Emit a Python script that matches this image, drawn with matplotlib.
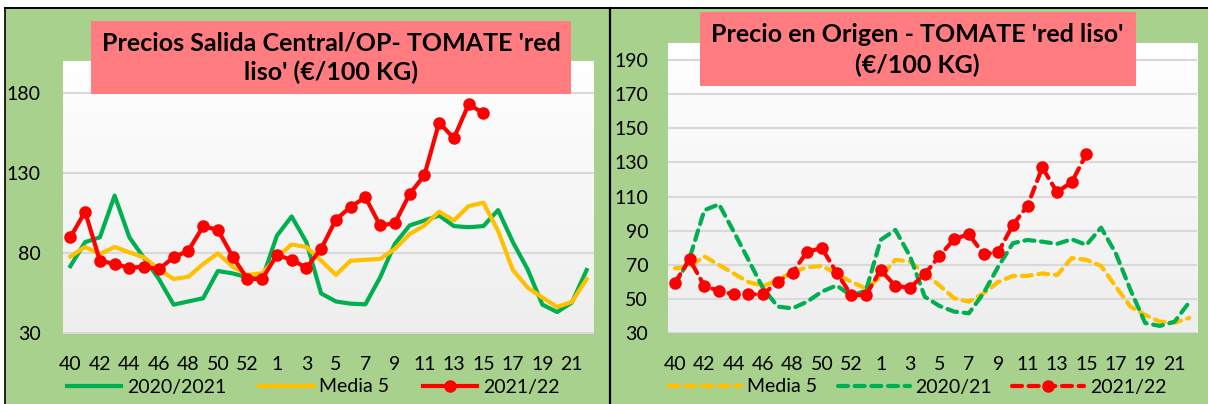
import matplotlib
matplotlib.use("Agg")
import matplotlib.pyplot as plt
import numpy as np
from matplotlib.patches import Rectangle
from matplotlib.lines import Line2D
from matplotlib.colors import LinearSegmentedColormap

plt.rcParams['font.family'] = ['Lato', 'DejaVu Sans']

# semanas 40..53 y 1..22
weeks = [str(w) for w in list(range(40, 54)) + list(range(1, 23))]
tick_labels = [w if i % 2 == 0 else '' for i, w in enumerate(weeks)]

# Precios Salida Central/OP
central_2020 = [72, 87, 90, 116, 90, 77, 64, 48, 50, 52, 69, 67.5, 65, 64, 91, 103, 87, 55,
                50, 48.6, 48.2, 65, 86, 97.4, 100.5, 103.6, 97, 96.3, 97, 107, 87, 70, 48, 43.4, 49.3, 69.6]
central_media5 = [78, 84, 79.6, 84, 80.6, 77.5, 70, 64, 65.4, 73.3, 80, 71.7, 66.6, 67.5, 77.5, 85.5, 84, 75.5,
                  66.6, 75.4, 76, 76.5, 82.8, 92, 97.4, 106, 100.5, 109.5, 111.6, 94, 69.6, 58.7, 52.4, 46.6, 49.7, 64]
central_2021 = [90, 106, 75.4, 73.4, 71, 71.7, 70.2, 77.5, 81.7, 96.8, 94.7, 78, 64, 64, 79, 76, 71, 82.8,
                101, 109, 115, 97.4, 98.8, 117, 128.7, 161.6, 151.8, 173, 167.5]

# Precio en Origen
origen_media5 = [68, 69, 75, 70, 65, 60, 57.7, 61, 66, 68.6, 69.4, 65, 60, 56.3, 63, 73, 72, 65,
                 58, 50.5, 48.5, 53.4, 60, 63.6, 63.6, 65, 64, 74, 73, 69.4, 57.3, 45.6, 40.7, 36.8, 36.2, 39]
origen_2020 = [58, 74, 102, 105.5, 89.5, 73, 56.3, 45.6, 44.6, 48.5, 54.4, 58, 52, 55, 84.6, 90.5, 75, 51.4,
               46, 42.7, 41.7, 53.4, 69, 82.7, 84.6, 83.6, 82.3, 85, 81.7, 91.8, 76.8, 55.4, 36, 34.3, 36.8, 48.2]
origen_2021 = [59.6, 73.3, 57.7, 54.8, 52.8, 52.8, 52.8, 60.2, 65.5, 77.8, 79.8, 65.5, 52.4, 52.4, 67, 57.7, 56.7, 64.6,
               75.3, 85, 88, 76.3, 77.4, 93.4, 104.7, 127, 112.6, 118.4, 134.8]

W, H = 1208, 404
GREEN_BG = '#A9D18E'
TITLE_BG = '#FF7C80'
C_GREEN = '#00B050'
C_YELLOW = '#FFC000'
C_RED = '#FF0000'
FS = 14

fig = plt.figure(figsize=(W / 100, H / 100), dpi=100)
fig.patch.set_facecolor('white')

# fondos verdes de los paneles
fig.add_artist(Rectangle((5 / W, 0), (610 - 5) / W, (H - 7.5) / H, transform=fig.transFigure,
                         facecolor=GREEN_BG, edgecolor='none', zorder=-2))
fig.add_artist(Rectangle((610 / W, 0), (W - 610) / W, (H - 7.5) / H, transform=fig.transFigure,
                         facecolor=GREEN_BG, edgecolor='none', zorder=-2))
fig.add_artist(Line2D([5 / W, 5 / W], [0, (H - 7.5) / H], transform=fig.transFigure, color='black', lw=1.2))
fig.add_artist(Line2D([5 / W, 1], [(H - 7.5) / H, (H - 7.5) / H], transform=fig.transFigure, color='black', lw=1.4))
fig.add_artist(Line2D([610 / W, 610 / W], [0, (H - 7.5) / H], transform=fig.transFigure, color='black', lw=1.6))

grad_cmap = LinearSegmentedColormap.from_list('g', ['#EEEEEE', '#FFFFFF'])


def setup_axes(rect, yticks, ytop, pad):
    ax = fig.add_axes(rect)
    ax.set_facecolor('white')
    ax.imshow(np.linspace(0, 1, 100)[:, None], extent=[0, 1, 0, 1], transform=ax.transAxes,
              cmap=grad_cmap, aspect='auto', origin='lower', zorder=0)
    x = np.arange(len(weeks))
    ax.set_xlim(-0.5, len(weeks) - 0.5)
    ax.set_ylim(30, ytop)
    ax.set_xticks(x)
    ax.set_xticklabels(tick_labels)
    ax.set_yticks(yticks)
    ax.tick_params(length=0, labelsize=FS, colors='black')
    ax.tick_params(axis='x', pad=16)
    ax.tick_params(axis='y', pad=pad)
    for s in ax.spines.values():
        s.set_visible(False)
    ax.grid(axis='y', color='#D9D9D9', lw=1.5, zorder=1)
    ax.set_axisbelow(True)
    return ax, x


# panel izquierdo
ax1, x = setup_axes([63 / W, 1 - 333.5 / H, 531 / W, 272.5 / H], [30, 80, 130, 180], 200, 16)
ax1.plot(x, central_2020, color=C_GREEN, lw=3, label='2020/2021', zorder=3)
ax1.plot(x, central_media5, color=C_YELLOW, lw=3, label='Media 5', zorder=3)
ax1.plot(x[:len(central_2021)], central_2021, color=C_RED, lw=3, marker='o', ms=8,
         label='2021/22', zorder=4)
ax1.legend(loc='center', bbox_to_anchor=(313 / W, 1 - 387 / H), bbox_transform=fig.transFigure,
           ncol=3, frameon=False, fontsize=FS, handlelength=2.8, columnspacing=1.7,
           handletextpad=0.3)

# panel derecho
dash = (2.4, 1.6)
ax2, x = setup_axes([667.6 / W, 1 - 333.3 / H, 529 / W, 290.6 / H], list(range(30, 191, 20)), 200, 14)
ax2.plot(x, origen_media5, color=C_YELLOW, lw=3, ls=(0, dash), label='Media 5', zorder=3,
         dash_capstyle='round')
ax2.plot(x, origen_2020, color=C_GREEN, lw=3, ls=(0, dash), label='2020/21', zorder=3,
         dash_capstyle='round')
ax2.plot(x[:len(origen_2021)], origen_2021, color=C_RED, lw=3, ls=(0, dash), marker='o', ms=8,
         label='2021/22', zorder=4, dash_capstyle='round')
ax2.legend(loc='center', bbox_to_anchor=(918 / W, 1 - 387 / H), bbox_transform=fig.transFigure,
           ncol=3, frameon=False, fontsize=FS, handlelength=3.7, columnspacing=1.05,
           handletextpad=0.3)

# cajas de titulo
fig.add_artist(Rectangle((91 / W, 1 - 94 / H), 480 / W, 73 / H, transform=fig.transFigure,
                         facecolor=TITLE_BG, edgecolor='none', zorder=5))
fig.text(331 / W, 1 - 58 / H, "Precios Salida Central/OP- TOMATE 'red\nliso' (€/100 KG)",
         ha='center', va='center', fontsize=18, fontweight='bold', linespacing=1.3, zorder=6)
fig.add_artist(Rectangle((699.5 / W, 1 - 86 / H), 436 / W, 74 / H, transform=fig.transFigure,
                         facecolor=TITLE_BG, edgecolor='none', zorder=5))
fig.text(917.5 / W, 1 - 50 / H, "Precio en Origen - TOMATE 'red liso'\n(€/100 KG)",
         ha='center', va='center', fontsize=18, fontweight='bold', linespacing=1.35, zorder=6)

fig.savefig('out.png', dpi=100)
